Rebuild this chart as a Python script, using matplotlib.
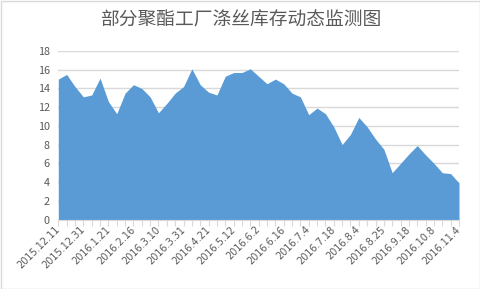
import matplotlib
import matplotlib.pyplot as plt
from matplotlib.patches import Rectangle
import matplotlib.transforms as mtransforms

plt.rcParams['font.family'] = ['Noto Sans CJK SC', 'DejaVu Sans']

title = '部分聚酯工厂涤丝库存动态监测图'

# labels shown on every third category
dates = ['2015.12.11', '2015.12.31', '2016.1.21', '2016.2.16', '2016.3.10',
         '2016.3.31', '2016.4.21', '2016.5.12', '2016.6.2', '2016.6.16',
         '2016.7.4', '2016.7.18', '2016.8.4', '2016.8.25', '2016.9.18',
         '2016.10.8', '2016.11.4']

stock = [15.0, 15.5, 14.2, 13.1, 13.3, 15.1, 12.6, 11.3, 13.5, 14.4,
         14.0, 13.1, 11.4, 12.4, 13.5, 14.2, 16.1, 14.4, 13.6, 13.3,
         15.3, 15.7, 15.7, 16.1, 15.3, 14.5, 15.0, 14.5, 13.5, 13.1,
         11.2, 11.9, 11.3, 9.9, 8.0, 9.1, 10.9, 9.9, 8.6, 7.5,
         5.0, 6.0, 7.0, 7.9, 6.9, 6.0, 5.0, 4.9, 3.9]

label_step = 3
blue = '#5b9bd5'
grid = '#d9d9d9'
txt = '#595959'

fig = plt.figure(figsize=(4.81, 2.89), dpi=100)
ax = fig.add_axes([58.3 / 481, 1 - 219.5 / 289, (459 - 58.3) / 481, (219.5 - 51) / 289])

x = list(range(len(stock)))
ax.fill_between(x, stock, 0, color=blue, lw=0)
ax.set_xlim(0, len(stock) - 1)
ax.set_ylim(0, 18)
ax.set_yticks(range(0, 19, 2))
ax.yaxis.grid(True, color=grid, lw=1)
ax.set_axisbelow(True)

ax.set_xticks(x)
labels = [''] * len(stock)
for i, d in enumerate(dates):
    labels[i * label_step] = d
ax.set_xticklabels(labels, rotation=45, ha='right', va='center',
                   rotation_mode='anchor', fontsize=7, color=txt,
                   family='DejaVu Sans')
offset = mtransforms.ScaledTranslation(5 / 72, -6 / 72, fig.dpi_scale_trans)
for lab in ax.get_xticklabels():
    lab.set_transform(lab.get_transform() + offset)

ax.tick_params(axis='x', length=4, width=0.8, color=grid, pad=2)
ax.tick_params(axis='y', length=0, pad=6, labelsize=7.8, labelcolor=txt)
for s in ['top', 'right', 'left']:
    ax.spines[s].set_visible(False)
ax.spines['bottom'].set_color(grid)

fig.text(0.5, 1 - 20 / 289, title, ha='center', va='center',
         fontsize=13.5, color=txt)
fig.patches.append(Rectangle((0.5 / 481, 0.5 / 289), 479.5 / 481, 287.5 / 289,
                             transform=fig.transFigure, fill=False,
                             edgecolor=grid, lw=1))

fig.savefig('out.png', dpi=100)
